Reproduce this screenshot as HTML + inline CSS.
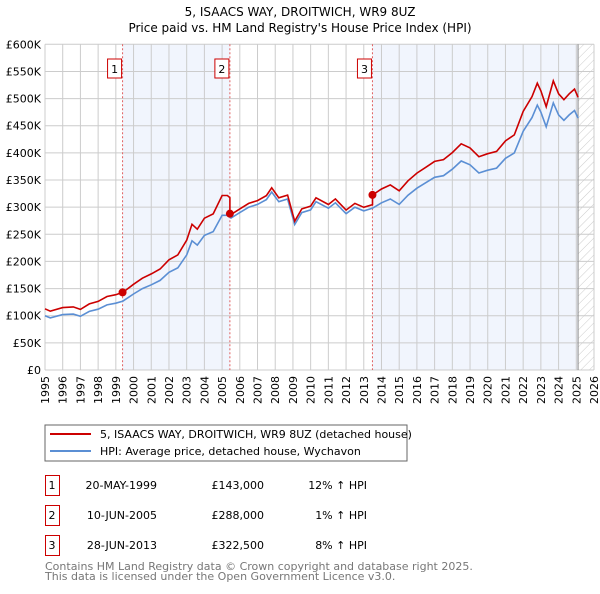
<!DOCTYPE html>
<html><head><meta charset="utf-8"><style>
body{margin:0;background:#fff;font-family:"DejaVu Sans","Liberation Sans",sans-serif;}
svg text{font-family:"DejaVu Sans","Liberation Sans",sans-serif;}
</style></head><body>
<svg id="c" width="600" height="590" xmlns="http://www.w3.org/2000/svg">
<defs><pattern id="hatch" width="6" height="6" patternUnits="userSpaceOnUse" patternTransform="rotate(45)"><line x1="0" y1="0" x2="0" y2="6" stroke="#ccc" stroke-width="1"/></pattern></defs>
<text x="300" y="16" text-anchor="middle" font-size="12" fill="#000">5, ISAACS WAY, DROITWICH, WR9 8UZ</text>
<text x="300" y="32" text-anchor="middle" font-size="12" fill="#000">Price paid vs. HM Land Registry's House Price Index (HPI)</text>
<g id="plot"></g>
<rect x="45" y="425" width="362" height="36" fill="#fff" stroke="#666"/>
<line x1="50" y1="434" x2="91" y2="434" stroke="#cc0000" stroke-width="2"/>
<text x="100" y="438" font-size="11">5, ISAACS WAY, DROITWICH, WR9 8UZ (detached house)</text>
<line x1="50" y1="451" x2="91" y2="451" stroke="#5b8fd4" stroke-width="2"/>
<text x="100" y="455" font-size="11">HPI: Average price, detached house, Wychavon</text>
<g id="tbl" font-size="11"></g>
<text x="45" y="570" font-size="11" fill="#777">Contains HM Land Registry data © Crown copyright and database right 2025.</text>
<text x="45" y="580" font-size="11" fill="#777">This data is licensed under the Open Government Licence v3.0.</text>
</svg>
<script>
const hpiYears=[1995.0,1995.3,1996.0,1996.6,1997.0,1997.5,1998.0,1998.5,1999.0,1999.4,2000.0,2000.5,2001.0,2001.5,2002.0,2002.5,2003.0,2003.3,2003.6,2004.0,2004.5,2005.0,2005.3,2005.5,2006.0,2006.5,2007.0,2007.5,2007.8,2008.2,2008.7,2009.1,2009.5,2010.0,2010.3,2011.0,2011.4,2012.0,2012.5,2013.0,2013.5,2014.0,2014.5,2015.0,2015.5,2016.0,2016.5,2017.0,2017.5,2018.0,2018.5,2019.0,2019.5,2020.0,2020.5,2021.0,2021.5,2022.0,2022.5,2022.8,2023.0,2023.3,2023.7,2024.0,2024.3,2024.6,2024.9,2025.1];
const hpiValues=[100,96,102,103,99,108,112,120,123,127,140,150,157,165,180,188,212,238,230,248,255,285,285,280,290,300,305,314,328,310,315,268,290,295,310,298,308,288,300,293,298,308,315,305,322,335,345,355,358,370,385,378,363,368,372,390,400,440,465,488,475,448,492,470,460,470,478,464];
const saleYears=[1999.38,2005.44,2013.49];
const salePrices=[143000,288000,322500];
const saleLabels=["1","2","3"];
const saleDates=["20-MAY-1999","10-JUN-2005","28-JUN-2013"];
const salePriceText=["£143,000","£288,000","£322,500"];
const saleHpiText=["12% ↑ HPI","1% ↑ HPI","8% ↑ HPI"];
const saleRatios=[1.12,1.01,1.08];
const yTicks=[0,50,100,150,200,250,300,350,400,450,500,550,600];
const yTickLabels=["£0","£50K","£100K","£150K","£200K","£250K","£300K","£350K","£400K","£450K","£500K","£550K","£600K"];
const xTicks=[1995,1996,1997,1998,1999,2000,2001,2002,2003,2004,2005,2006,2007,2008,2009,2010,2011,2012,2013,2014,2015,2016,2017,2018,2019,2020,2021,2022,2023,2024,2025,2026];
const dataEnd=2025.1;

const NS="http://www.w3.org/2000/svg";
const L=45,R=594,T=44.3,B=370;
const X=y=>L+(y-1995)/31*(R-L);
const Y=v=>B-v/600*(B-T);
function mk(tag,attrs,parent){const e=document.createElementNS(NS,tag);for(const k in attrs)e.setAttribute(k,attrs[k]);parent.appendChild(e);return e;}
const g=document.getElementById('plot');
// shaded regions
const s1=mk('rect',{x:X(saleYears[0]),y:T,width:X(saleYears[1])-X(saleYears[0]),height:B-T,fill:'#eef3fc',opacity:0.8},g);


const s2=mk('rect',{x:X(saleYears[2]),y:T,width:X(dataEnd)-X(saleYears[2]),height:B-T,fill:'#eef3fc',opacity:0.8},g);


const hz=mk('rect',{x:X(dataEnd),y:T,width:R-X(dataEnd),height:B-T,fill:'url(#hatch)'},g);


// grid
yTicks.forEach((v,i)=>{
 const ln=mk('line',{x1:L,x2:R,y1:Y(v),y2:Y(v),stroke:'#ccc','stroke-width':1},g);
 
 
 const t=mk('text',{x:L-4,y:Y(v)+4,'text-anchor':'end','font-size':11},g);t.textContent=yTickLabels[i];
 
 
});
xTicks.forEach(yr=>{
 const ln=mk('line',{x1:X(yr),x2:X(yr),y1:T,y2:B,stroke:'#ccc','stroke-width':1},g);
 
 
 const t=mk('text',{x:0,y:0,'text-anchor':'end','font-size':11,transform:`translate(${X(yr)+4},${B+6}) rotate(-90)`},g);t.textContent=yr;
 
 
});
const dl=mk('line',{x1:X(dataEnd),x2:X(dataEnd),y1:T,y2:B,stroke:'#888','stroke-width':1},g);


// sale markers lines
saleYears.forEach((yr,i)=>{
 const ln=mk('line',{x1:X(yr),x2:X(yr),y1:T,y2:B,stroke:'#e06060','stroke-width':1,'stroke-dasharray':'2,2'},g);
 
 
 const bx=mk('rect',{x:X(yr)-15,y:59,width:14,height:19,fill:'#fff',stroke:'#c00'},g);
 
 
 const t=mk('text',{x:X(yr)-8,y:73,'text-anchor':'middle','font-size':11},g);t.textContent=saleLabels[i];
 
 
});
// series
const hp=hpiYears.map((y,i)=>X(y).toFixed(1)+','+Y(hpiValues[i]).toFixed(1)).join(' ');
const hl=mk('polyline',{points:hp,fill:'none',stroke:'#5b8fd4','stroke-width':1.6},g);


function ratioAt(y){let r=salePrices[0]/1000/hpiAt(saleYears[0]);for(let i=0;i<saleYears.length;i++){if(y>=saleYears[i])r=salePrices[i]/1000/hpiAt(saleYears[i]);}return r;}
function hpiAt(y){for(let i=1;i<hpiYears.length;i++){if(y<=hpiYears[i]){const f=(y-hpiYears[i-1])/(hpiYears[i]-hpiYears[i-1]);return hpiValues[i-1]+f*(hpiValues[i]-hpiValues[i-1]);}}return hpiValues[hpiValues.length-1];}
const rpts=[];
const allY=[...hpiYears,...saleYears].sort((a,b)=>a-b);
allY.forEach(y=>{
 const isSale=saleYears.indexOf(y);
 if(isSale>0){const prevR=ratioAt(y-1e-6);rpts.push([y,hpiAt(y)*prevR]);}
 rpts.push([y,hpiAt(y)*ratioAt(y)]);
});
const rl=mk('polyline',{points:rpts.map(p=>X(p[0]).toFixed(1)+','+Y(p[1]).toFixed(1)).join(' '),fill:'none',stroke:'#cc0000','stroke-width':1.6},g);


saleYears.forEach((yr,i)=>{
 const c=mk('circle',{cx:X(yr),cy:Y(salePrices[i]/1000),r:4,fill:'#cc0000'},g);
 
 
});
// table
const tb=document.getElementById('tbl');
saleYears.forEach((yr,i)=>{
 const y0=475+i*30;
 const bx=mk('rect',{x:45.5,y:y0+0.5,width:14,height:20,fill:'#fff',stroke:'#c00'},tb);
 
 
 const cells=[[52,'middle',saleLabels[i],'table-marker-label'],[157,'end',saleDates[i],'table-date'],[264,'end',salePriceText[i],'table-price'],[367,'end',saleHpiText[i],'table-hpi-diff']];
 cells.forEach(c=>{const t=mk('text',{x:c[0],y:y0+14,'text-anchor':c[1]},tb);t.textContent=c[2];
  
  });
});
</script>
</body></html>
